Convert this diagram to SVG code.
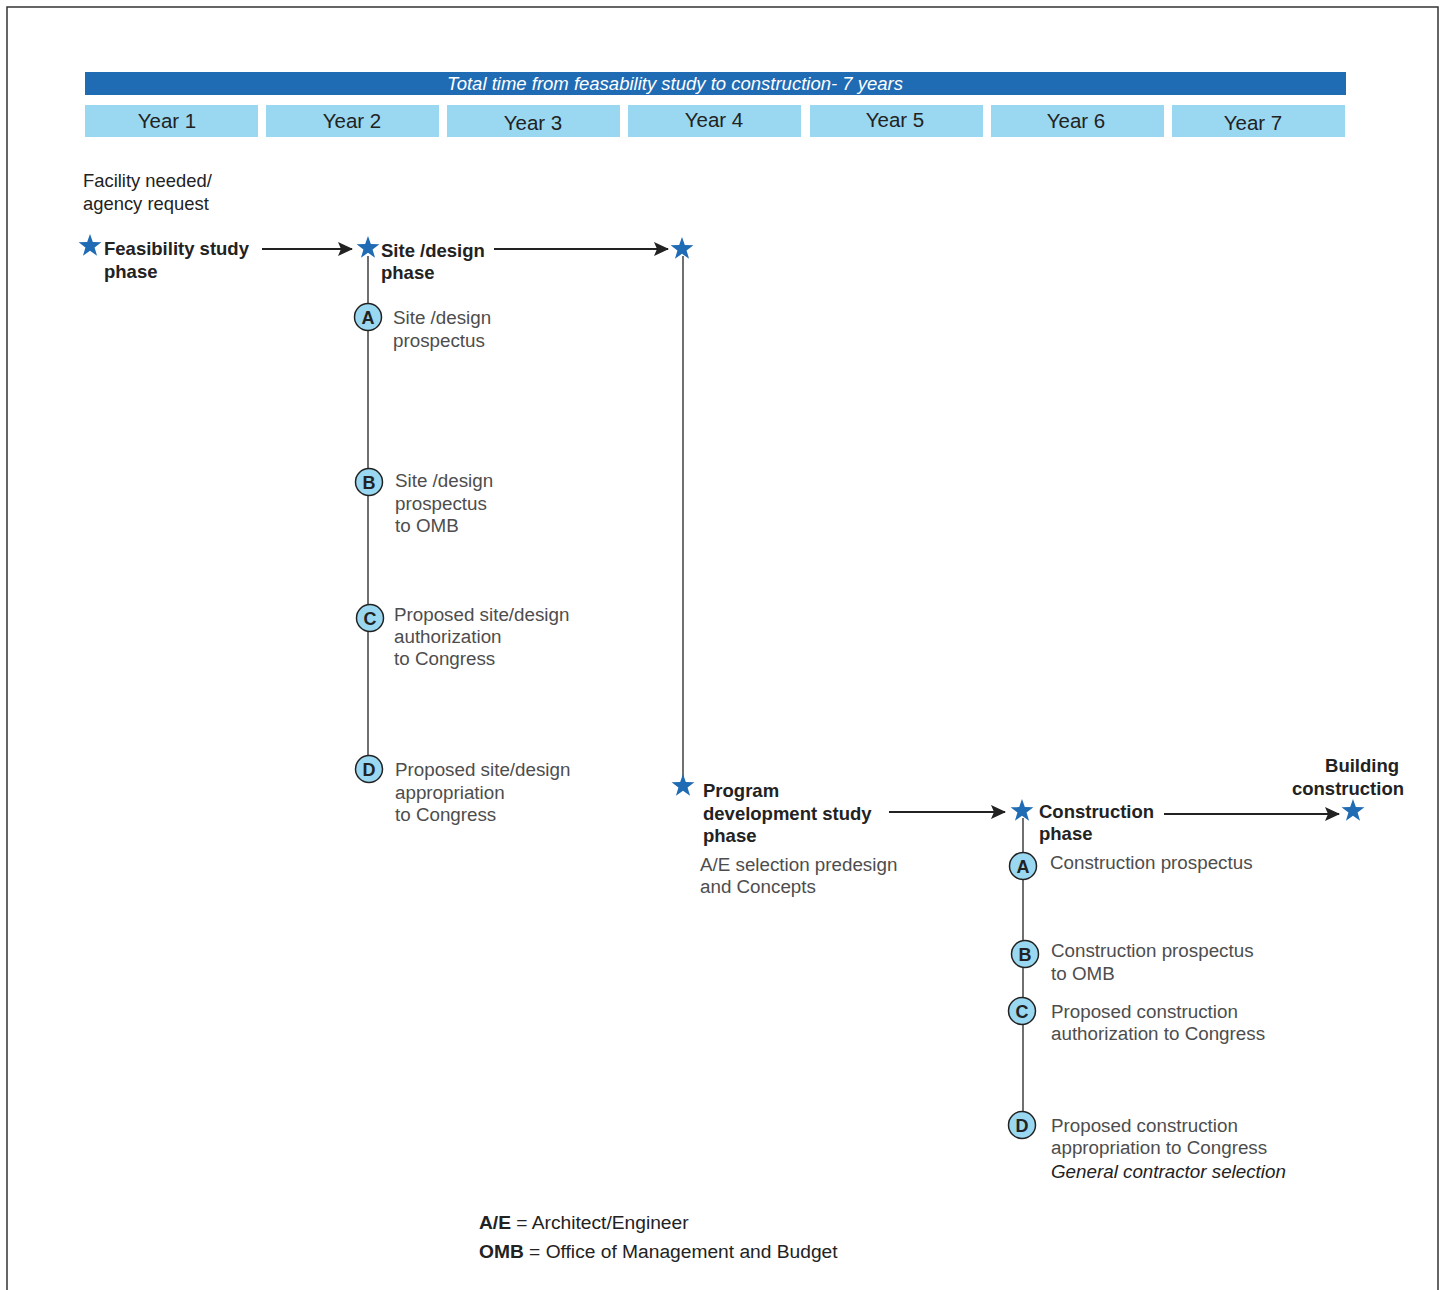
<svg xmlns="http://www.w3.org/2000/svg" width="1444" height="1290" viewBox="0 0 1444 1290">
<defs>
<style>
.t{font-family:"Liberation Sans",Arial,sans-serif;}
.yr{font-family:"Liberation Sans",Arial,sans-serif;font-size:20.5px;fill:#222;text-anchor:middle;}
.ybox{fill:#99d8f0;}
.b{font-family:"Liberation Sans",Arial,sans-serif;font-size:18.5px;font-weight:bold;fill:#222;}
.g{font-family:"Liberation Sans",Arial,sans-serif;font-size:18.8px;fill:#4d4d4d;}
.gi{font-style:italic;fill:#222;}
.d{font-family:"Liberation Sans",Arial,sans-serif;font-size:18.4px;fill:#222;}
.lg{font-family:"Liberation Sans",Arial,sans-serif;font-size:19.2px;fill:#222;}
.star{fill:#1f6bb4;}
.cir{fill:#99d8f0;stroke:#222;stroke-width:1.5;}
.cl{font-family:"Liberation Sans",Arial,sans-serif;font-size:18px;font-weight:bold;fill:#222;text-anchor:middle;}
.ln{stroke:#222;stroke-width:1.3;fill:none;}
.ar{stroke:#222;stroke-width:2;fill:none;marker-end:url(#ah);}
</style>
<marker id="ah" markerUnits="userSpaceOnUse" markerWidth="16" markerHeight="14" refX="14" refY="7" orient="auto">
<path d="M0,0 L15,7 L0,14 L3,7 z" fill="#222"/>
</marker>
<path id="st" d="M0,-12 L2.82,-3.88 L11.41,-3.71 L4.56,1.48 L7.05,9.71 L0,4.8 L-7.05,9.71 L-4.56,1.48 L-11.41,-3.71 L-2.82,-3.88 z"/>
</defs>
<rect x="0" y="0" width="1444" height="1290" fill="#fff"/>
<path d="M7,1292 L7,7 L1438,7 L1438,1292" fill="none" stroke="#333" stroke-width="1.5"/>

<g id="timeline-header">
<rect x="85" y="72" width="1261" height="23" fill="#1f6bb4"/>
<text x="675" y="90" class="t" font-size="18.5" font-style="italic" fill="#fff" text-anchor="middle">Total time from feasability study to construction- 7 years</text>
<rect class="ybox" x="85" y="105" width="173" height="32"/>
<rect class="ybox" x="266" y="105" width="173" height="32"/>
<rect class="ybox" x="447" y="105" width="173" height="32"/>
<rect class="ybox" x="628" y="105" width="173" height="32"/>
<rect class="ybox" x="810" y="105" width="173" height="32"/>
<rect class="ybox" x="991" y="105" width="173" height="32"/>
<rect class="ybox" x="1172" y="105" width="173" height="32"/>
<text class="yr" x="167" y="128">Year 1</text>
<text class="yr" x="352" y="128">Year 2</text>
<text class="yr" x="533" y="130">Year 3</text>
<text class="yr" x="714" y="127">Year 4</text>
<text class="yr" x="895" y="127">Year 5</text>
<text class="yr" x="1076" y="128">Year 6</text>
<text class="yr" x="1253" y="130">Year 7</text>
</g>

<g id="connectors">
<line class="ar" x1="262" y1="249" x2="352" y2="249"/>
<line class="ar" x1="494" y1="249" x2="668" y2="249"/>
<line class="ar" x1="889" y1="812" x2="1005" y2="812"/>
<line class="ar" x1="1164" y1="814" x2="1339" y2="814"/>
<line class="ln" x1="368" y1="256" x2="368" y2="770"/>
<line class="ln" x1="683" y1="256" x2="683" y2="778"/>
<line class="ln" x1="1023" y1="818" x2="1023" y2="1125"/>
</g>

<g id="facility-needed">
<text class="d" x="83" y="187">Facility needed/</text>
<text class="d" x="83" y="210">agency request</text>
</g>

<g id="feasibility-study">
<use href="#st" class="star" x="90" y="246"/>
<text class="b" x="104" y="255">Feasibility study</text>
<text class="b" x="104" y="278">phase</text>
</g>

<g id="site-design">
<use href="#st" class="star" x="368" y="248"/>
<text class="b" x="381" y="257">Site /design</text>
<text class="b" x="381" y="279">phase</text>
</g>

<g id="sd-a">
<circle class="cir" cx="368" cy="317" r="13.5"/>
<text class="cl" x="368" y="323.5">A</text>
<text class="g" x="393" y="324">Site /design</text>
<text class="g" x="393" y="347">prospectus</text>
</g>
<g id="sd-b">
<circle class="cir" cx="369" cy="482" r="13.5"/>
<text class="cl" x="369" y="488.5">B</text>
<text class="g" x="395" y="487">Site /design</text>
<text class="g" x="395" y="510">prospectus</text>
<text class="g" x="395" y="532">to OMB</text>
</g>
<g id="sd-c">
<circle class="cir" cx="370" cy="618" r="13.5"/>
<text class="cl" x="370" y="624.5">C</text>
<text class="g" x="394" y="621">Proposed site/design</text>
<text class="g" x="394" y="643">authorization</text>
<text class="g" x="394" y="665">to Congress</text>
</g>
<g id="sd-d">
<circle class="cir" cx="369" cy="769" r="13.5"/>
<text class="cl" x="369" y="775.5">D</text>
<text class="g" x="395" y="776">Proposed site/design</text>
<text class="g" x="395" y="799">appropriation</text>
<text class="g" x="395" y="821">to Congress</text>
</g>

<g id="site-design-end">
<use href="#st" class="star" x="682" y="249"/>
</g>

<g id="program-development">
<use href="#st" class="star" x="683" y="786"/>
<text class="b" x="703" y="797">Program</text>
<text class="b" x="703" y="820">development study</text>
<text class="b" x="703" y="842">phase</text>
<text class="g" x="700" y="871">A/E selection predesign</text>
<text class="g" x="700" y="893">and Concepts</text>
</g>

<g id="construction-phase">
<use href="#st" class="star" x="1022" y="811"/>
<text class="b" x="1039" y="818">Construction</text>
<text class="b" x="1039" y="840">phase</text>
</g>

<g id="c-a">
<circle class="cir" cx="1023" cy="866" r="13.5"/>
<text class="cl" x="1023" y="872.5">A</text>
<text class="g" x="1050" y="869">Construction prospectus</text>
</g>
<g id="c-b">
<circle class="cir" cx="1025" cy="954" r="13.5"/>
<text class="cl" x="1025" y="960.5">B</text>
<text class="g" x="1051" y="957">Construction prospectus</text>
<text class="g" x="1051" y="980">to OMB</text>
</g>
<g id="c-c">
<circle class="cir" cx="1022" cy="1011" r="13.5"/>
<text class="cl" x="1022" y="1017.5">C</text>
<text class="g" x="1051" y="1018">Proposed construction</text>
<text class="g" x="1051" y="1040">authorization to Congress</text>
</g>
<g id="c-d">
<circle class="cir" cx="1022" cy="1125" r="13.5"/>
<text class="cl" x="1022" y="1131.5">D</text>
<text class="g" x="1051" y="1132">Proposed construction</text>
<text class="g" x="1051" y="1154">appropriation to Congress</text>
<text class="g gi" x="1051" y="1178">General contractor selection</text>
</g>

<g id="building-construction">
<use href="#st" class="star" x="1353" y="811"/>
<text class="b" x="1399" y="772" text-anchor="end">Building</text>
<text class="b" x="1404" y="795" text-anchor="end">construction</text>
</g>

<g id="legend">
<text class="lg" x="479" y="1229"><tspan font-weight="bold">A/E</tspan> = Architect/Engineer</text>
<text class="lg" x="479" y="1258"><tspan font-weight="bold">OMB</tspan> = Office of Management and Budget</text>
</g>
</svg>
